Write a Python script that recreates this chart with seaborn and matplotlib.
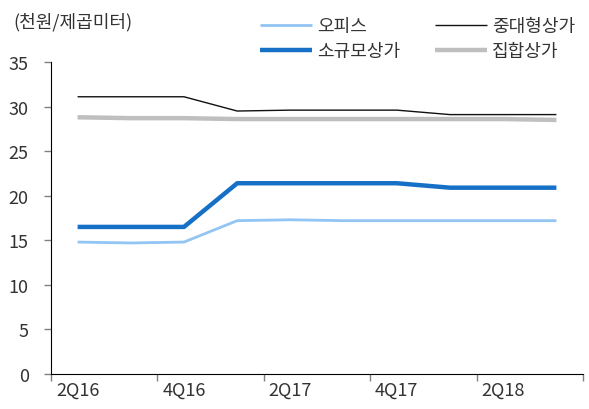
import pandas as pd
import seaborn as sns
import matplotlib.pyplot as plt

# Quarterly rent per square metre (thousand won)
quarters = ["2Q16", "3Q16", "4Q16", "1Q17", "2Q17", "3Q17", "4Q17", "1Q18", "2Q18", "3Q18"]
office = [14.8, 14.7, 14.8, 17.2, 17.3, 17.2, 17.2, 17.2, 17.2, 17.2]
mid_large = [31.1, 31.1, 31.1, 29.5, 29.6, 29.6, 29.6, 29.1, 29.1, 29.1]
small_shop = [16.5, 16.5, 16.5, 21.4, 21.4, 21.4, 21.4, 20.9, 20.9, 20.9]
complex_shop = [28.8, 28.7, 28.7, 28.6, 28.6, 28.6, 28.6, 28.6, 28.6, 28.5]
shown_labels = ["2Q16", "4Q16", "2Q17", "4Q17", "2Q18"]

series = {
    "오피스": office,
    "소규모상가": small_shop,
    "중대형상가": mid_large,
    "집합상가": complex_shop,
}

df = pd.DataFrame({"idx": range(len(quarters)), "quarter": quarters})
for name, vals in series.items():
    df[name] = vals
long_df = df.melt(id_vars=["idx", "quarter"], var_name="type", value_name="rent")

sns.set_style("white")
plt.rcParams['font.family'] = ['Noto Sans CJK KR', 'DejaVu Sans']

styles = {
    "오피스": ("#92C5F3", 2.0),
    "소규모상가": ("#1570C6", 3.2),
    "중대형상가": ("#111111", 1.0),
    "집합상가": ("#BFBFBF", 3.2),
}

fig = plt.figure(figsize=(5.89, 4.10), dpi=100)
ax = fig.add_axes([51 / 589, 1 - 375 / 410, 532 / 589, 312 / 410])

# Draw the lines one series at a time so each gets its own width
for name, (color, lw) in styles.items():
    sub = long_df[long_df["type"] == name]
    sns.lineplot(data=sub, x="idx", y="rent", color=color, linewidth=lw,
                 label=name, ax=ax, solid_capstyle="butt")

n = len(quarters)
ax.set_ylim(0, 35)
ax.set_yticks(range(0, 36, 5))
ax.set_xlim(-0.5, n - 0.5)

# Category axis: tick marks on the boundaries of every second quarter,
# labels centred under every second quarter
ax.set_xticks([i - 0.5 for i in range(0, n + 1, 2)])
ax.set_xticklabels([])
label_pos = [quarters.index(q) for q in shown_labels]
ax.set_xticks(label_pos, minor=True)
ax.set_xticklabels(shown_labels, minor=True)
ax.set_xlabel("")
ax.set_ylabel("")

ax.tick_params(axis="both", which="major", length=5, width=1, color="#808080",
               labelsize=13, labelcolor="#333333", direction="out",
               bottom=True, left=True)
ax.tick_params(axis="x", which="minor", length=0, labelsize=13,
               labelcolor="#333333", pad=5, bottom=True)
ax.tick_params(axis="y", pad=11)

sns.despine(ax=ax)
ax.spines['bottom'].set_color('black')
ax.spines['left'].set_color('black')

fig.text(13 / 589, 1 - 22.5 / 410, "(천원/제곱미터)", fontsize=13, color="#333333",
         va="center", ha="left")

ax.legend(ncol=2, frameon=False, fontsize=13, loc="upper left",
          bbox_to_anchor=(260 / 589, 1 - 18 / 410), bbox_transform=fig.transFigure,
          handlelength=2.9, handletextpad=0.28, columnspacing=1.9,
          labelspacing=0.41, borderpad=0, borderaxespad=0)
for txt in ax.get_legend().get_texts():
    txt.set_color("#333333")

fig.savefig("out.png", dpi=100)
